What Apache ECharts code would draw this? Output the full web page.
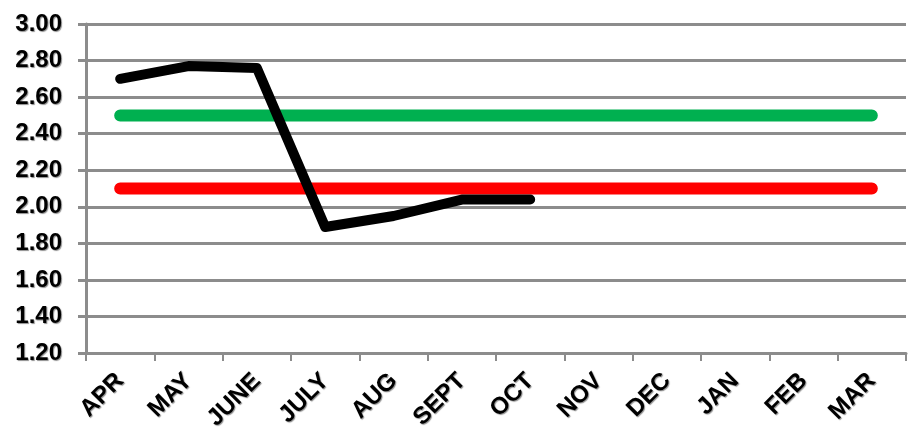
<!DOCTYPE html>
<html>
<head>
<meta charset="utf-8">
<script src="https://cdn.jsdelivr.net/npm/echarts@6/dist/echarts.min.js"></script>
<style>
  html, body { margin: 0; padding: 0; background: #fff; }
  #chart { width: 908px; height: 433px; }
</style>
</head>
<body>
<div id="chart"></div>
<script>
// Monthly values for the fiscal year
const months = ['APR', 'MAY', 'JUNE', 'JULY', 'AUG', 'SEPT', 'OCT', 'NOV', 'DEC', 'JAN', 'FEB', 'MAR'];
const actual = [2.70, 2.77, 2.76, 1.89, 1.95, 2.04, 2.04, null, null, null, null, null];
const upperLevel = [2.50, 2.50, 2.50, 2.50, 2.50, 2.50, 2.50, 2.50, 2.50, 2.50, 2.50, 2.50];
const lowerLevel = [2.10, 2.10, 2.10, 2.10, 2.10, 2.10, 2.10, 2.10, 2.10, 2.10, 2.10, 2.10];
const yTicks = { min: 1.2, max: 3.0, step: 0.2 };

const chart = echarts.init(document.getElementById('chart'), null, { renderer: 'canvas' });

const labelFont = {
  color: '#000',
  fontFamily: 'Liberation Sans, Arial, sans-serif',
  fontWeight: 'bold',
  textShadowColor: 'rgba(0,0,0,0.45)',
  textShadowBlur: 1,
  textShadowOffsetX: 1,
  textShadowOffsetY: 1
};

chart.setOption({
  animation: false,
  backgroundColor: '#fff',
  grid: { left: 86, right: 2, top: 24, bottom: 78, containLabel: false },
  xAxis: {
    type: 'category',
    data: months,
    boundaryGap: true,
    axisLine: { show: true, lineStyle: { color: '#8c8c8c', width: 3 } },
    axisTick: { show: true, alignWithLabel: false, length: 8, lineStyle: { color: '#8c8c8c', width: 2 } },
    axisLabel: Object.assign({ rotate: 45, margin: 24, fontSize: 24, interval: 0 }, labelFont),
    splitLine: { show: false }
  },
  yAxis: {
    type: 'value',
    min: yTicks.min,
    max: yTicks.max,
    interval: yTicks.step,
    axisLine: { show: true, lineStyle: { color: '#8c8c8c', width: 3 } },
    axisTick: { show: true, length: 8, lineStyle: { color: '#8c8c8c', width: 3 } },
    axisLabel: Object.assign({ margin: 24, fontSize: 24, formatter: v => v.toFixed(2) }, labelFont),
    splitLine: { show: true, lineStyle: { color: '#8c8c8c', width: 3 } }
  },
  series: [
    {
      type: 'line',
      data: upperLevel,
      symbol: 'none',
      lineStyle: { color: '#00b050', width: 12, cap: 'round' },
      z: 2
    },
    {
      type: 'line',
      data: lowerLevel,
      symbol: 'none',
      lineStyle: { color: '#ff0000', width: 12, cap: 'round' },
      z: 2
    },
    {
      type: 'line',
      data: actual,
      symbol: 'none',
      connectNulls: false,
      lineStyle: { color: '#000', width: 10, cap: 'round', join: 'round' },
      z: 3
    }
  ]
});
</script>
</body>
</html>
